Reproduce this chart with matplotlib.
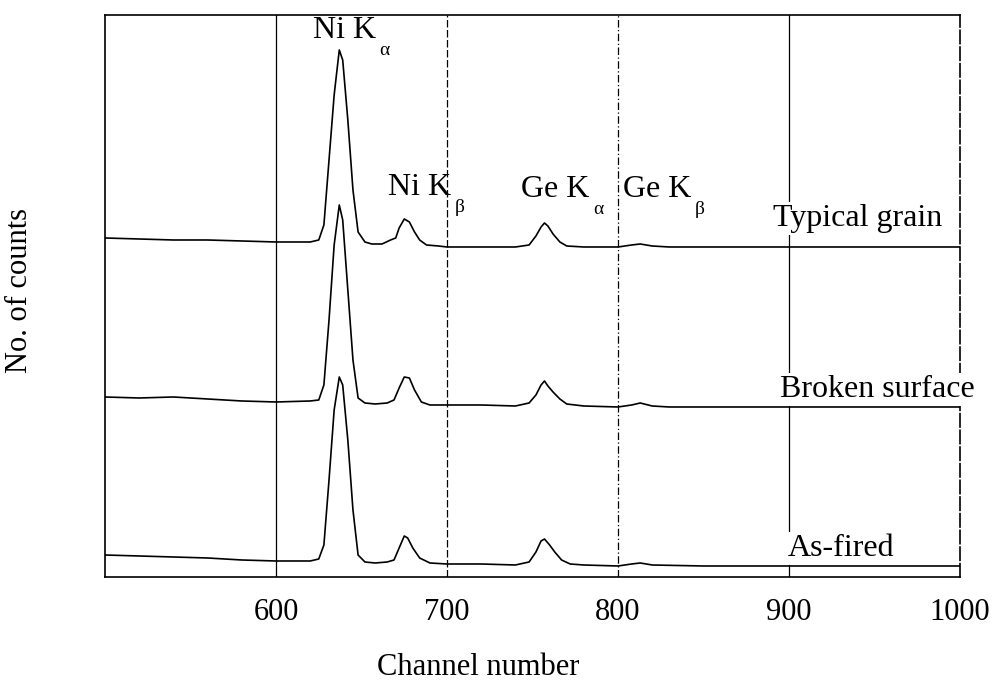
import matplotlib
matplotlib.use("Agg")
import matplotlib.pyplot as plt

# ---------------- data ----------------
typ_ch = [500, 520, 540, 560, 580, 600, 610, 620, 625, 628, 631, 634, 637, 639, 642, 645, 648,
          652, 656, 662, 667, 670, 672, 675, 678, 681, 684, 688, 695, 700, 720, 740, 748, 752,
          755, 757, 759, 762, 766, 770, 780, 800, 808, 813, 820, 830, 900, 1000]
typ_counts = [339, 338, 337, 337, 336, 335, 335, 335, 337, 352, 417, 482, 527, 517, 457, 387, 345,
              335, 333, 333, 337, 339, 349, 358, 355, 345, 337, 332, 331, 330, 330, 330, 332, 341,
              350, 354, 351, 343, 335, 331, 330, 330, 332, 333, 331, 330, 330, 330]

brk_ch = [500, 520, 540, 560, 580, 600, 620, 625, 628, 631, 634, 637, 639, 642, 645, 648, 652,
          658, 665, 669, 672, 675, 678, 681, 685, 690, 700, 720, 740, 748, 752, 755, 757, 759,
          762, 766, 770, 780, 800, 808, 813, 820, 830, 1000]
brk_counts = [180, 179, 180, 178, 176, 175, 176, 177, 192, 257, 332, 372, 357, 287, 217, 179, 174,
              173, 174, 177, 189, 200, 199, 187, 175, 172, 172, 172, 171, 174, 182, 192, 196, 191,
              185, 178, 173, 171, 170, 172, 174, 171, 170, 170]

asf_ch = [500, 520, 540, 560, 580, 600, 620, 625, 628, 631, 634, 637, 639, 642, 645, 648, 652,
          658, 665, 669, 672, 675, 677, 680, 684, 690, 700, 720, 740, 748, 752, 755, 757, 760,
          763, 767, 772, 780, 800, 808, 813, 820, 850, 1000]
asf_counts = [22, 21, 20, 19, 17, 16, 16, 18, 32, 97, 167, 200, 192, 137, 67, 22, 15,
              14, 15, 17, 29, 41, 39, 29, 19, 14, 13, 13, 12, 15, 25, 36, 38, 32,
              25, 17, 13, 12, 11, 13, 14, 12, 11, 11]

x_ticks = [600, 700, 800, 900, 1000]
grid_channels = [600, 700, 800, 900]
grid_styles = ["-", (0, (6, 2)), (0, (6, 2, 1, 2)), "-"]

peak_labels = [("Ni K", "α", 621.5, 539), ("Ni K", "β", 665.5, 382),
               ("Ge K", "α", 743.5, 380), ("Ge K", "β", 803, 380)]
series_labels = [("Typical grain", 890.5, 351), ("Broken surface", 894.5, 180), ("As-fired", 899.5, 21)]

# ---------------- drawing ----------------
plt.rcParams["font.family"] = ["Liberation Serif", "DejaVu Serif"]
fig = plt.figure(figsize=(10.02, 6.94), dpi=100)
ax = fig.add_axes([0.1048, 0.1686, 0.8533, 0.8098])
ax.set_xlim(500, 1000)
ax.set_ylim(0, 562)

for g, ls in zip(grid_channels, grid_styles):
    ax.axvline(g, color="black", lw=0.9, ls=ls, zorder=1)

for ch, c in [(typ_ch, typ_counts), (brk_ch, brk_counts), (asf_ch, asf_counts)]:
    ax.plot(ch, c, color="black", lw=1.2, zorder=3)

for main, sub, xl, y in peak_labels:
    t = ax.text(xl, y, main, fontsize=23, ha="left", va="baseline", zorder=4)
    ax.annotate(sub, xy=(1, 0), xycoords=t, xytext=(2.5, -7), textcoords="offset points",
                fontsize=14, ha="left", va="baseline", zorder=4)

for txt, xl, y in series_labels:
    ax.text(xl, y, txt, fontsize=23, ha="left", va="baseline", zorder=4, clip_on=False,
            bbox=dict(facecolor="white", edgecolor="none", pad=1.5))

ax.set_xticks(x_ticks)
ax.set_yticks([])
ax.tick_params(axis="x", length=0, pad=15, labelsize=22)
for s in ax.spines.values():
    s.set_linewidth(1.2)
    s.set_zorder(2)
ax.spines["right"].set_linestyle((0, (8, 2)))
ax.set_xlabel("Channel number", fontsize=22)
ax.xaxis.set_label_coords(0.436, -0.135)
ax.set_ylabel("No. of counts", fontsize=22)
ax.yaxis.set_label_coords(-0.083, 0.51)

fig.savefig("out.png", dpi=100)
